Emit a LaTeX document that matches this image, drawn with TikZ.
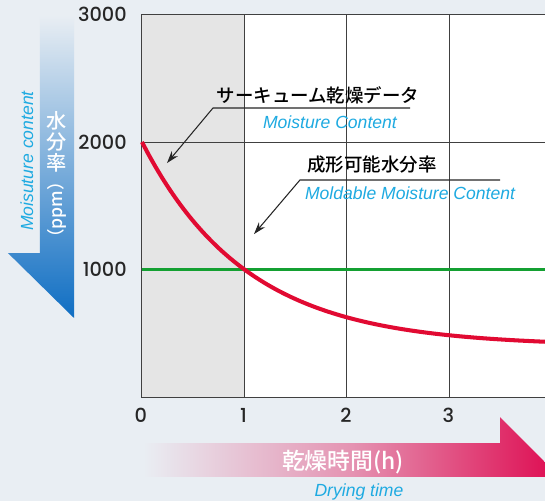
\documentclass[tikz,border=0pt]{standalone}
\usepackage{fontspec}
\setmainfont{Liberation Sans}
\newfontfamily\jpfont{Noto Sans CJK JP Medium}
\newfontfamily\numfont{Poppins Medium}
\usetikzlibrary{arrows.meta}
\definecolor{bgpanel}{RGB}{233,238,243}
\definecolor{grayzone}{RGB}{229,229,229}
\definecolor{labelcyan}{RGB}{30,170,225}
\definecolor{curvered}{RGB}{225,10,50}
\definecolor{levelgreen}{RGB}{20,160,50}
\definecolor{arrowblue}{RGB}{15,110,195}
\definecolor{arrowred}{RGB}{222,10,80}

\begin{document}
\begin{tikzpicture}[x=2.05cm, y=2.55cm, font=\fontsize{10}{12}\selectfont,
    ticklbl/.style={font=\numfont\fontsize{11}{13}\selectfont, text=black!85},
    jplbl/.style={font=\jpfont\fontsize{10.5}{12}\selectfont},
    enlbl/.style={font=\itshape\fontsize{10}{12}\selectfont, text=labelcyan},
    leader/.style={draw=black!85, line width=0.6pt, -{Stealth[length=7pt,width=4.5pt]}},
    gridline/.style={draw=black!75, line width=0.6pt}]
% Panel: x in hours, y in 1000 ppm
\def\xmax{3.932}
\fill[bgpanel] (-1.385,-0.816) rectangle (\xmax,3.114);
\useasboundingbox (-1.385,-0.816) rectangle (\xmax,3.114);

% Plot area
\fill[white] (1,0) rectangle (\xmax,3);
\fill[grayzone] (0,0) rectangle (1,3);
\foreach \x in {1,2,3} {
    \draw[gridline] (\x,0) -- (\x,3);
}
\draw[gridline] (0,2) -- (\xmax,2);
\draw[gridline] (\xmax,3) -- (0,3) -- (0,0) -- (\xmax,0);

% Moldable level and drying curve
\draw[levelgreen, line width=1.8pt] (0,1) -- (\xmax,1);
\draw[curvered, line width=2.3pt, domain=0:\xmax, samples=60, smooth]
    plot (\x, {0.4+1.6*exp(-0.98083*\x)});

% Tick labels
\foreach \v in {1,2,3} {
    \node[ticklbl, anchor=east] (ylbl\v) at (-0.088,\v) {\v000};
}
\foreach \t in {0,...,3} {
    \node[ticklbl] (xlbl\t) at (\t-0.01,-0.141) {\t};
}

% Vertical arrow (moisture)
\shade[top color=bgpanel, bottom color=arrowblue, middle color=arrowblue!50!bgpanel]
    (-0.995,2.996) -- (-0.663,2.996) -- (-0.663,0.620) -- (-1.307,1.129) -- (-0.995,1.129) -- cycle;
\node[text=white, align=center, font=\jpfont\fontsize{11.5}{12}\selectfont] (yjp) at (-0.829,2.0) {水\\分\\率};
\node[text=white, rotate=90, font=\jpfont\fontsize{10}{12}\selectfont] (yunit) at (-0.829,1.467) {（ppm）};
\node[enlbl, rotate=90] (yen) at (-1.122,1.851) {Moisuture content};

% Horizontal arrow (time)
\shade[left color=bgpanel, right color=arrowred, middle color=arrowred!40!bgpanel]
    (0.01,-0.361) -- (3.493,-0.361) -- (3.493,-0.157) -- (4.078,-0.627) -- (0.01,-0.627) -- cycle;
\node[text=white, font=\jpfont\fontsize{13}{15}\selectfont] (xjp) at (1.961,-0.51) {乾燥時間(h)};
\node[enlbl] (xen) at (2.117,-0.745) {Drying time};

% Callout: measured data
\node[jplbl] (noteA) at (1.717,2.369) {サーキューム乾燥データ};
\node[enlbl] (noteAen) at (1.834,2.157) {Moisture Content};
\coordinate (lineA0) at (0.693,2.267);
\coordinate (lineA1) at (2.615,2.267);
\coordinate (tipA) at (0.244,1.835);
\draw[leader] (lineA1) -- (lineA0) -- (tipA);

% Callout: moldable level
\node[jplbl] (noteB) at (2.244,1.82) {成形可能水分率};
\node[enlbl] (noteBen) at (2.615,1.6) {Moldable Moisture Content};
\coordinate (lineB0) at (1.541,1.702);
\coordinate (lineB1) at (3.493,1.702);
\coordinate (tipB) at (1.093,1.278);
\draw[leader] (lineB1) -- (lineB0) -- (tipB);
\end{tikzpicture}
\end{document}
